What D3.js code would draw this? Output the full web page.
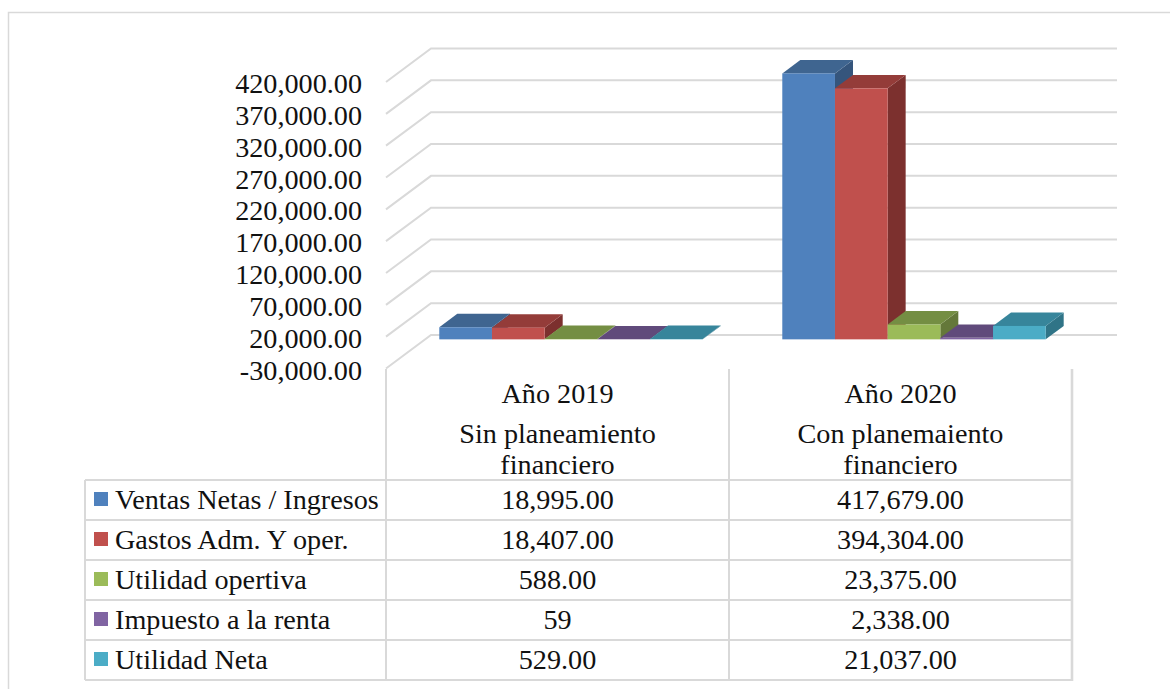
<!DOCTYPE html>
<html>
<head>
<meta charset="utf-8">
<script src="https://cdn.jsdelivr.net/npm/d3@7"></script>
<style>
  html, body { margin: 0; padding: 0; background: #fff; }
  svg { display: block; }
  text { font-family: "Liberation Serif", serif; font-size: 28.2px; fill: #111; }
  .rule { stroke: #d9d9d9; stroke-width: 2; fill: none; }
</style>
</head>
<body>
<svg width="1170" height="689"></svg>
<script>
// **** Chart values ****
const categories = ['Año 2019', 'Año 2020'];
const categorySubs = [['Sin planeamiento', 'financiero'], ['Con planemaiento', 'financiero']];
const seriesNames = ['Ventas Netas / Ingresos', 'Gastos Adm. Y oper.', 'Utilidad opertiva', 'Impuesto a la renta', 'Utilidad Neta'];
const values2019 = [18995, 18407, 588, 59, 529];
const values2020 = [417679, 394304, 23375, 2338, 21037];
const labels2019 = ['18,995.00', '18,407.00', '588.00', '59', '529.00'];
const labels2020 = ['417,679.00', '394,304.00', '23,375.00', '2,338.00', '21,037.00'];
const tickValues = [-30000, 20000, 70000, 120000, 170000, 220000, 270000, 320000, 370000, 420000];
const colorsFront = ['#4f81bd', '#c0504d', '#9bbb59', '#8064a2', '#4bacc6'];
const colorsTop = ['#3f6590', '#943c39', '#748e43', '#604a7b', '#37859b'];
const colorsSide = ['#35557c', '#7c302e', '#64783a', '#52406a', '#307487'];

const svg = d3.select('svg');

// **** Scales ****
const yScale = d3.scaleLinear().domain([-30000, 420000]).range([368.5, 82]);
const catScale = d3.scaleBand().domain(categories).range([386, 1072]);
const seriesScale = d3.scaleBand().domain(seriesNames).range([0, catScale.bandwidth()]);
// depth of the 3d box: 0 is the front plane, 1 the back wall
const depthX = d3.scaleLinear().domain([0, 1]).range([0, 45]);
const depthY = d3.scaleLinear().domain([0, 1]).range([0, -33.5]);

// outer frame, open on the right
svg.append('path').attr('class', 'rule')
    .attr('d', 'M8.5,689V12.5H1170').style('stroke-width', 1.5);

// **** Gridlines on the side and back walls ****
svg.append('g').selectAll('path').data(tickValues).join('path')
    .attr('class', 'rule')
    .attr('d', d => {
        const y = yScale(d);
        return `M${catScale.range()[0]},${y}L${catScale.range()[0] + depthX(1)},${y + depthY(1)}H1117`;
    });

// **** Axis ****
const axis = svg.append('g').attr('transform', 'translate(386,1.5)')
    .call(d3.axisLeft(yScale).tickValues(tickValues).tickSize(0).tickPadding(24)
        .tickFormat(d => d3.format(',.2f')(d).replace('−', '-')));
axis.select('.domain').remove();
axis.attr('font-family', null).attr('font-size', null);

// **** 3d bars ****
const barFront = 0.3, barBack = 0.7;
const barShrink = 0.768;
const barWidth = seriesScale.bandwidth() * barShrink;
const barGroups = svg.append('g');

function drawBars(category, values) {
    const cx = catScale(category) + catScale.bandwidth() / 2;
    values.forEach((v, i) => {
        const x0 = cx + (seriesScale(seriesNames[i]) - catScale.bandwidth() / 2) * barShrink + depthX(barFront);
        const x1 = x0 + barWidth;
        const y0 = yScale(0) + depthY(barFront);
        const yt = yScale(v) + depthY(barFront);
        const dx = depthX(barBack) - depthX(barFront);
        const dy = depthY(barBack) - depthY(barFront);
        const g = barGroups.append('g');
        g.append('path').attr('fill', colorsSide[i])
            .attr('d', `M${x1},${y0}L${x1 + dx},${y0 + dy}V${yt + dy}L${x1},${yt}Z`);
        g.append('path').attr('fill', colorsTop[i])
            .attr('d', `M${x0},${yt}L${x0 + dx},${yt + dy}H${x1 + dx}L${x1},${yt}Z`);
        g.append('rect').attr('fill', colorsFront[i])
            .attr('x', x0).attr('y', yt).attr('width', barWidth).attr('height', y0 - yt);
    });
}
drawBars(categories[0], values2019);
drawBars(categories[1], values2020);

// **** Data table ****
const rowScale = d3.scaleBand().domain(seriesNames).range([480, 680]);
const table = svg.append('g');
const tableLeft = 85;

table.selectAll('.row').data(d3.range(6)).join('line')
    .attr('class', 'rule row')
    .attr('x1', tableLeft).attr('x2', catScale.range()[1])
    .attr('y1', i => 480 + i * rowScale.bandwidth())
    .attr('y2', i => 480 + i * rowScale.bandwidth());
table.append('line').attr('class', 'rule')
    .attr('x1', tableLeft).attr('x2', tableLeft).attr('y1', 480).attr('y2', 680);
[catScale.range()[0], catScale(categories[1]), catScale.range()[1]].forEach((x, i) => {
    table.append('line').attr('class', 'rule')
        .attr('x1', x).attr('x2', x).attr('y1', 369).attr('y2', 681)
        .style('stroke-width', i === 2 ? 2.6 : 2);
});

categories.forEach((c, i) => {
    const cx = catScale(c) + catScale.bandwidth() / 2;
    table.append('text').attr('x', cx).attr('y', 403).attr('text-anchor', 'middle').text(c);
    categorySubs[i].forEach((s, j) => {
        table.append('text').attr('x', cx).attr('y', 442.5 + j * 31).attr('text-anchor', 'middle').text(s);
    });
});

seriesNames.forEach((s, i) => {
    const y = rowScale(s);
    table.append('rect').attr('x', 94).attr('y', y + 12).attr('width', 14).attr('height', 14)
        .attr('fill', colorsFront[i]);
    table.append('text').attr('x', 115).attr('y', y + 28.5).text(s);
    table.append('text').attr('x', catScale(categories[0]) + catScale.bandwidth() / 2)
        .attr('y', y + 28.5).attr('text-anchor', 'middle').text(labels2019[i]);
    table.append('text').attr('x', catScale(categories[1]) + catScale.bandwidth() / 2)
        .attr('y', y + 28.5).attr('text-anchor', 'middle').text(labels2020[i]);
});
</script>
</body>
</html>
